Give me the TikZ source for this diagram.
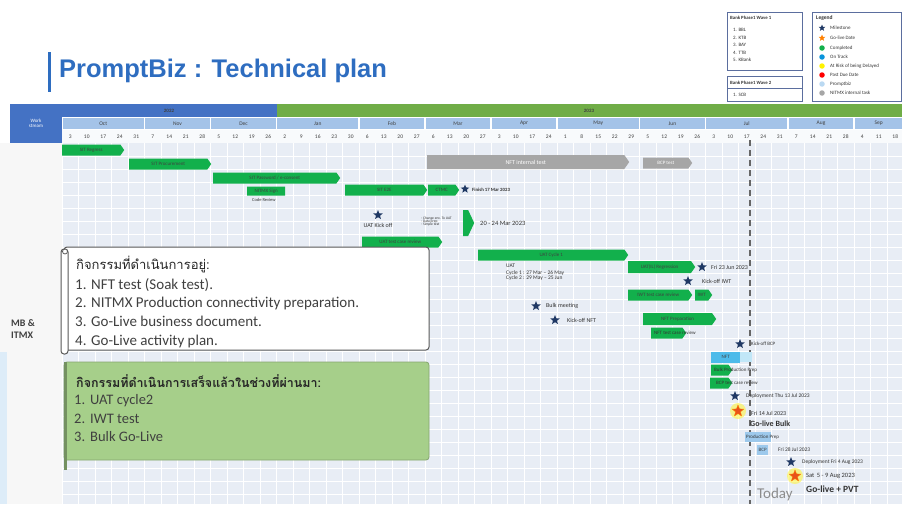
\documentclass[tikz,border=0pt]{standalone}
\usepackage{fontspec}
\setmainfont{Carlito}
\newfontfamily\thaifont[Script=Thai]{Loma}
\newfontfamily\titlefont{Liberation Sans}
\usepackage{tikz}
\usetikzlibrary{shapes,positioning}
\definecolor{titleblue}{HTML}{2E6DC0}
\definecolor{wsblue}{HTML}{4472C4}
\definecolor{yeargreen}{HTML}{70AD47}
\definecolor{monthblue}{HTML}{A4C3E8}
\definecolor{gridbg}{HTML}{E8EDF5}
\definecolor{ganttgreen}{HTML}{12B04C}
\definecolor{nitmxgray}{HTML}{A6A6A6}
\definecolor{promptblue}{HTML}{9DC9EC}
\definecolor{nftblue}{HTML}{4DBBEA}
\definecolor{navystar}{HTML}{1F3864}
\definecolor{goliveorange}{HTML}{E8521C}
\definecolor{legline}{HTML}{5B6E9E}
\definecolor{donegreen}{HTML}{A6CF8A}
\newcommand{\fsz}[1]{\fontsize{#1}{#1}\selectfont}

\begin{document}
\begin{tikzpicture}[x=1pt,y=-1pt,
    gbar/.style={signal, signal to=east, signal pointer angle=110, fill=ganttgreen,
        minimum height=11, inner sep=0, anchor=west, font=\fsz{5}, text=black!75},
    nbar/.style={gbar, fill=nitmxgray, text=white, font=\fsz{6}},
    pbar/.style={rectangle, fill=promptblue, minimum height=10, inner sep=0,
        anchor=west, font=\fsz{5}, text=black!75},
    mstone/.style={star, star points=5, star point ratio=2.3, fill=navystar,
        minimum size=10, inner sep=0},
    golive/.style={mstone, fill=goliveorange, draw=orange, minimum size=12},
    glow/.style={circle, fill=yellow!80, opacity=.55, minimum size=16, inner sep=0},
    note/.style={anchor=west, inner sep=0, font=\fsz{6}, text=black!80},
    wk/.style={font=\fsz{5.5}, text=black!75, inner sep=0},
    legtext/.style={anchor=west, inner sep=0, font=\fsz{5}, text=black!80},
    dot/.style={circle, minimum size=5.5, inner sep=0},
    item/.style={anchor=base west, inner sep=0, font=\fsz{15}, text=black!75}]
\useasboundingbox (0,0) rectangle (902,504);

% Title
\fill[titleblue] (47.5,52) rectangle (50.5,92);
\node[anchor=west, inner sep=0, text=titleblue, font=\titlefont\bfseries\fsz{25.5}] (title) at (59,71) {PromptBiz : Technical plan};

% Bank waves and legend
\draw[legline, line width=.8] (727,12) rectangle (802,70);
\node[legtext, font=\bfseries\fsz{4.8}] (wave1) at (730,18) {Bank Phase1 Wave 1};
\foreach \b [count=\k] in {1. BBL,2. KTB,3. BAY,4. TTB,5. KBank}
    \node[legtext] (bank\k) at (733,{22.5+7.5*\k}) {\b};
\draw[legline, line width=.8] (727,76) rectangle (802,101);
\node[legtext, font=\bfseries\fsz{4.8}] (wave2) at (730,83) {Bank Phase1 Wave 2};
\draw[legline, line width=.4] (727,88) -- (802,88);
\node[legtext] (bank6) at (733,95) {1. SCB};

\draw[legline, line width=.8] (812,12) rectangle (901.5,101);
\node[legtext, font=\bfseries\fsz{5.5}] (legend) at (816,18) {Legend};
\node[mstone, minimum size=7] (lg1) at (822,28) {};
\node[legtext] at (830,28) {Milestone};
\node[mstone, fill=orange, minimum size=7] (lg2) at (822,38) {};
\node[legtext] at (830,38) {Go-live Date};
\node[dot, fill=ganttgreen] (lg3) at (822,48) {};
\node[legtext] at (830,48) {Completed};
\node[dot, fill=cyan!80!blue] (lg4) at (822,57) {};
\node[legtext] at (830,57) {On Track};
\node[dot, fill=yellow] (lg5) at (822,66) {};
\node[legtext] at (830,66) {At Risk of being Delayed};
\node[dot, fill=red] (lg6) at (822,75) {};
\node[legtext] at (830,75) {Past Due Date};
\node[dot, fill=promptblue!70] (lg7) at (822,84) {};
\node[legtext] at (830,84) {Promptbiz};
\node[dot, fill=nitmxgray] (lg8) at (822,93) {};
\node[legtext] at (830,93) {NITMX internal task};

% Header: work stream, years, months, weeks
\fill[wsblue] (10,104) rectangle (62,143);
\node[align=center, text=white, font=\fsz{5}, inner sep=0] (ws) at (36,123) {Work\\stream};
\fill[wsblue] (62,104) rectangle (276.5,117);
\fill[yeargreen] (276.5,104) rectangle (902,117);
\node[wk, font=\bfseries\fsz{5}] (y22) at (169,110.5) {2022};
\node[wk, font=\bfseries\fsz{5}] (y23) at (589,110.5) {2023};
\fill[white] (62,117) rectangle (902,143);
\foreach \m/\s/\n in {Oct/0/5,Nov/5/4,Dec/9/4,Jan/13/5,Feb/18/4,Mar/22/4,Apr/26/4,May/30/5,Jun/35/4,Jul/39/5,Aug/44/4,Sep/48/3}{
    \fill[monthblue] ({62+16.5*\s+0.6},117.6) rectangle ({62+16.5*(\s+\n)-0.6},129.4);
    \node[wk] (m-\m) at ({62+16.5*(\s+\n/2)},123.5) {\m};
}
\fill[gridbg!30] (62,130) rectangle (902,143);
\foreach \d [count=\c from 0] in {3,10,17,24,31,7,14,21,28,5,12,19,26,2,9,16,23,30,6,13,20,27,6,13,20,27,3,10,17,24,1,8,15,22,29,5,12,19,26,3,10,17,24,31,7,14,21,28,4,11,18}
    \node[wk] (w\c) at ({70.25+16.5*\c},136.5) {\d};

% Grid
\fill[black!3] (0,143) rectangle (62,504);
\fill[promptblue!35] (0,352) rectangle (7,504);
\fill[gridbg] (62,143) rectangle (902,504);
\foreach \i in {0,...,51}
    \draw[white, line width=1] ({62+16.5*\i},143) -- ({62+16.5*\i},504);
\foreach \j in {1,...,28}
    \draw[white, line width=1] (62,{143+13*\j}) -- (902,{143+13*\j});
\node[anchor=west, align=left, inner sep=0, font=\bfseries\fsz{10}, text=black!75] (stream) at (11,329) {MB \&\\[2pt]ITMX};

% Today
\draw[black!60, line width=1.1, dash pattern=on 6pt off 4pt] (750,140) -- (750,504);
\node[anchor=west, inner sep=0, font=\fsz{15}, text=black!45] (today) at (757,494) {Today};

% SIT
\node[gbar, minimum width=62] (sitreg) at (62,150) {SIT Regress};
\node[gbar, minimum width=82] (sitproc) at (129,164) {SIT Procurement};
\node[gbar, minimum width=127] (sitpwd) at (213,178) {SIT Password / e-consent};
\node[gbar, signal to=nowhere, minimum width=38, minimum height=9] (sign) at (247,191) {NITMX Sign};
\node[note, font=\fsz{4.5}] (codereview) at (252,200) {Code Review};
\node[gbar, minimum width=82] (site2e) at (345,190) {SIT E2E};
\node[gbar, minimum width=31] (ctmc) at (428,190) {CTMC};
\node[mstone, minimum size=9] (finish) at (465,189) {};
\node[note, font=\bfseries\fsz{4.8}] (finishtxt) at (472,190) {Finish 17 Mar 2023};

% NITMX internal tasks
\node[nbar, minimum width=202, minimum height=14] (nftint) at (427,162) {NFT internal test};
\node[nbar, minimum width=49, font=\fsz{5}] (bcptest) at (643,163) {BCP test};

% UAT
\node[mstone] (uatko) at (378,215) {};
\node[note, anchor=north] (uatkotxt) at (378,223) {UAT Kick off};
\node[note, align=left, font=\fsz{3.6}] (prep) at (421,222) {- Change env. To UAT\\[-.6pt]- Data prep\\[-.6pt]- Simple test};
\node[gbar, signal pointer angle=130, minimum width=11, minimum height=26] (uatprep) at (463,223) {};
\node[note, font=\fsz{6.5}] (uatpreptxt) at (480,223) {20 - 24 Mar 2023};
\node[gbar, minimum width=80] (uatreview) at (362,242) {UAT test case review};
\node[gbar, minimum width=150] (uatc1) at (478,255) {UAT Cycle 1};
\node[note, anchor=north west, align=left, font=\fsz{5.5}] (cycles) at (506,264) {UAT\\[1pt]Cycle 1 : 27 Mar -- 26 May\\Cycle 2 : 29 May -- 25 Jun};
\node[gbar, minimum width=67, minimum height=12] (uatreg) at (628,267) {UAT(IL) Regression};
\node[mstone] (uatend) at (702,267) {};
\node[note] (uatendtxt) at (711,267) {Fri 23 Jun 2023};

% IWT, bulk, NFT
\node[mstone] (iwtko) at (688,281) {};
\node[note] (iwtkotxt) at (702,281) {Kick-off IWT};
\node[gbar, minimum width=64] (iwtreview) at (628,295) {IWT test case review};
\node[gbar, minimum width=17] (iwt) at (695,295) {IWT};
\node[mstone] (bulkmeet) at (536,306) {};
\node[note] (bulkmeettxt) at (546,306) {Bulk meeting};
\node[mstone] (nftko) at (555,320) {};
\node[note] (nftkotxt) at (567,320) {Kick-off NFT};
\node[gbar, minimum width=73, minimum height=12] (nftprep) at (643,319) {NFT Preparation};
\node[gbar, minimum width=35] (nftreview) at (651,333) {};
\node[note, font=\fsz{5}] (nftreviewtxt) at (654,333) {NFT test case review};

% BCP and go-live
\node[mstone] (bcpko) at (740,344) {};
\node[note, font=\fsz{5}] (bcpkotxt) at (751,344) {Kick-off BCP};
\fill[nftblue!35] (740,352) rectangle (752,362);
\node[pbar, fill=nftblue, minimum width=29, minimum height=11] (nft) at (711,357) {NFT};
\node[gbar, minimum width=21] (bulkprod) at (711,370) {};
\node[note, font=\fsz{5}] (bulkprodtxt) at (714,370) {Bulk Production Prep};
\node[gbar, minimum width=22] (bcpreview) at (710,383) {};
\node[note, font=\fsz{5}] (bcpreviewtxt) at (716,383) {BCP test case review};
\node[mstone] (deploy1) at (735,396) {};
\node[note, font=\fsz{5.5}] (deploy1txt) at (746,396) {Deployment Thu 13 Jul 2023};
\node[glow] at (738,411) {};
\node[golive] (golive1) at (738,411) {};
\node[note] (golive1date) at (751,413) {Fri 14 Jul 2023};
\node[note, font=\bfseries\fsz{8}] (golive1txt) at (750,424) {Go-live Bulk};
\node[pbar, minimum width=26] (prodprep) at (745,437) {};
\node[note, font=\fsz{5}] (prodpreptxt) at (746,437) {Production Prep};
\node[pbar, minimum width=11] (bcp) at (757,450) {BCP};
\node[note, font=\fsz{5.5}] (bcptxt) at (778,450) {Fri 28 Jul 2023};
\node[mstone] (deploy2) at (791,462) {};
\node[note, font=\fsz{5.5}] (deploy2txt) at (802,462) {Deployment Fri 4 Aug 2023};
\node[glow] at (795,476) {};
\node[golive] (golive2) at (795,476) {};
\node[note, font=\fsz{6.5}] (golive2date) at (806,476) {Sat\, 5 - 9 Aug 2023};
\node[note, font=\bfseries\fsz{9.5}] (golive2txt) at (806,489) {Go-live + PVT};

% Ongoing activities
\draw[black!65, line width=1, fill=white, rounded corners=3] (64,247) rectangle (429,350);
\draw[black!65, line width=1, fill=white, rounded corners=3] (61,249) rectangle (68,354);
\draw[black!65, line width=.8, fill=white] (65,251.5) circle (2.5);
\node[anchor=west, inner sep=0, font=\thaifont\fsz{13}, text=black!85] (ongoing) at (76,265) {กิจกรรมที่ดำเนินการอยู่:};
\foreach \t [count=\k] in {NFT test (Soak test).,NITMX Production connectivity preparation.,Go-Live business document.,Go-Live activity plan.}{
    \node[item] (on\k) at (75,{270.5+18.7*\k}) {\k.};
    \node[item] (ontxt\k) at (91,{270.5+18.7*\k}) {\t};
}

% Completed activities
\draw[donegreen!80!black, line width=.8, fill=donegreen, rounded corners=3] (64,362) rectangle (429,460);
\fill[donegreen!70!black] (64,362) rectangle (67,470);
\node[anchor=west, inner sep=0, font=\thaifont\bfseries\fsz{12.5}, text=black!85] (done) at (76,381) {กิจกรรมที่ดำเนินการเสร็จแล้วในช่วงที่ผ่านมา:};
\foreach \t [count=\k] in {UAT cycle2,IWT test,Bulk Go-Live}{
    \node[item, font=\fsz{14.5}] (dn\k) at (74,{386+18.6*\k}) {\k.};
    \node[item, font=\fsz{14.5}] (dntxt\k) at (90,{386+18.6*\k}) {\t};
}
\end{tikzpicture}
\end{document}
